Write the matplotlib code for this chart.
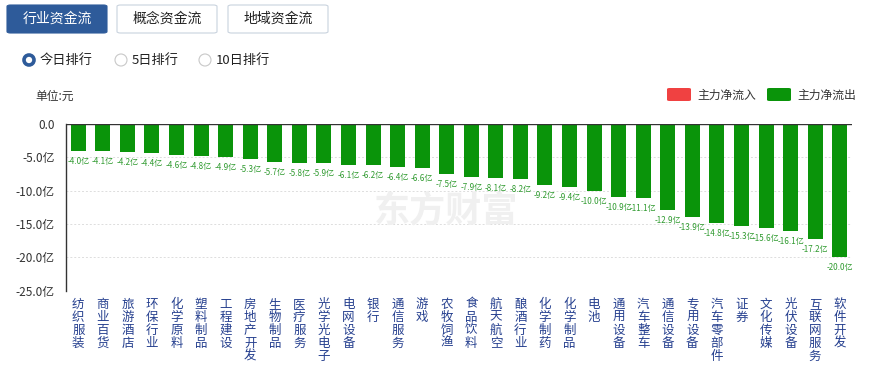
#!/usr/bin/env python3
"""Industry capital flow bar chart (今日排行)."""

import matplotlib
matplotlib.use("Agg")
import matplotlib.pyplot as plt
from matplotlib.patches import FancyBboxPatch, Ellipse
import numpy as np

plt.rcParams['font.family'] = ['Noto Sans CJK SC', 'DejaVu Sans']

industries = ["纺织服装", "商业百货", "旅游酒店", "环保行业", "化学原料", "塑料制品",
              "工程建设", "房地产开发", "生物制品", "医疗服务", "光学光电子", "电网设备",
              "银行", "通信服务", "游戏", "农牧饲渔", "食品饮料", "航天航空",
              "酿酒行业", "化学制药", "化学制品", "电池", "通用设备", "汽车整车",
              "通信设备", "专用设备", "汽车零部件", "证券", "文化传媒", "光伏设备",
              "互联网服务", "软件开发"]
net_flow = [-4.0, -4.1, -4.2, -4.4, -4.6, -4.8, -4.9, -5.3, -5.7, -5.8, -5.9, -6.1,
            -6.2, -6.4, -6.6, -7.5, -7.9, -8.1, -8.2, -9.2, -9.4, -10.0, -10.9, -11.1,
            -12.9, -13.9, -14.8, -15.3, -15.6, -16.1, -17.2, -20.0]
yticks = [0, -5, -10, -15, -20, -25]
ytick_labels = ["0.0", "-5.0亿", "-10.0亿", "-15.0亿", "-20.0亿", "-25.0亿"]

W, H = 875, 366
fig = plt.figure(figsize=(8.75, 3.66), dpi=100)


def px(x, y):
    return x / W, 1 - y / H


GREEN = "#0a940a"
RED = "#f04141"
BLUE = "#2e5b9a"

# tab buttons
tabs = [("行业资金流", 7, True), ("概念资金流", 117, False), ("地域资金流", 228, False)]
for label, x0, active in tabs:
    bx, by = px(x0, 33)
    box = FancyBboxPatch((bx, by), 100 / W, 28 / H, transform=fig.transFigure,
                         boxstyle="round,pad=0,rounding_size=0.004",
                         facecolor=BLUE if active else "white",
                         edgecolor=BLUE if active else "#c9d3de", linewidth=0.8)
    fig.patches.append(box)
    cx, cy = px(x0 + 50, 19)
    fig.text(cx, cy, label, ha="center", va="center", fontsize=10,
             color="white" if active else "#222222")

# radio buttons
radios = [("今日排行", 29, True), ("5日排行", 121, False), ("10日排行", 205, False)]
for label, x0, on in radios:
    cx, cy = px(x0, 60)
    d = 10 if on else 12
    fig.patches.append(Ellipse((cx, cy), d / W, d / H, transform=fig.transFigure,
                               facecolor="white", edgecolor=BLUE if on else "#c8c8c8",
                               linewidth=2.6 if on else 0.8))
    tx, ty = px(x0 + 11, 60)
    fig.text(tx, ty, label, ha="left", va="center", fontsize=9.5, color="#222222")

fig.text(*px(35, 96), "单位:元", ha="left", va="center", fontsize=8.5, color="#333333")

# legend
for x0, color, label in [(667, RED, "主力净流入"), (767, GREEN, "主力净流出")]:
    lx, ly = px(x0, 101)
    fig.patches.append(FancyBboxPatch((lx, ly), 24 / W, 13 / H, transform=fig.transFigure,
                                      boxstyle="round,pad=0,rounding_size=0.003",
                                      facecolor=color, edgecolor="none"))
    fig.text(*px(x0 + 30, 95), label, ha="left", va="center", fontsize=8.5,
             color="#333333")

# chart
left, right = 66 / W, 852 / W
bottom, top = 1 - 290.7 / H, 1 - 124 / H
ax = fig.add_axes([left, bottom, right - left, top - bottom])

x = np.arange(len(industries))
ax.bar(x, net_flow, width=0.61, color=GREEN, zorder=3)
ax.set_xlim(-0.5, len(industries) - 0.5)
ax.set_ylim(-25, 0)
ax.set_yticks(yticks)
ax.set_yticklabels(ytick_labels, fontsize=8.5, color="#333333")
ax.tick_params(axis="y", length=0, pad=8)
ax.set_xticks([])

for v in yticks[1:]:
    ax.axhline(v, color="#dddddd", linestyle=(0, (2, 2)), linewidth=0.7, zorder=1)
ax.axhline(0, color="#333333", linewidth=1, zorder=4)

for s in ["top", "right", "bottom"]:
    ax.spines[s].set_visible(False)
ax.spines["left"].set_color("#333333")
ax.spines["left"].set_linewidth(1)

for xi, v in zip(x, net_flow):
    ax.annotate(f"{v:.1f}亿", (xi, v), xytext=(0, -7.5), textcoords="offset points",
                ha="center", va="center", fontsize=5.8, color="#2f9a2f", zorder=5)

for xi, name in zip(x, industries):
    ax.annotate("\n".join(name), (xi, -25), xytext=(0, -5), textcoords="offset points",
                ha="center", va="top", fontsize=9, color="#26408f", linespacing=1.0,
                annotation_clip=False)

# watermark
fig.text(*px(374, 211), "东方财富", ha="left", va="center", fontsize=26,
         fontweight="bold", color="#f0f0f0", zorder=0)

fig.savefig("out.png", dpi=100, facecolor="white")
